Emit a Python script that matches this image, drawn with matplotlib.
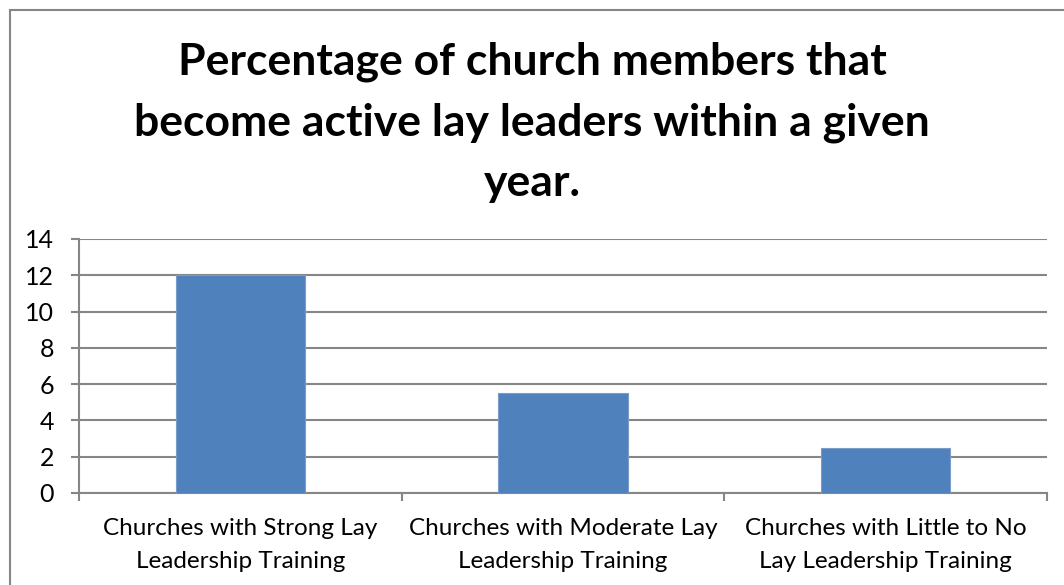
import matplotlib
matplotlib.use("Agg")
import matplotlib.pyplot as plt
from matplotlib.patches import Rectangle

# Chart data
categories = [
    "Churches with Strong Lay\nLeadership Training",
    "Churches with Moderate Lay\nLeadership Training",
    "Churches with Little to No\nLay Leadership Training",
]
percentages = [12, 5.5, 2.5]
y_ticks = [0, 2, 4, 6, 8, 10, 12, 14]

title = "Percentage of church members that\nbecome active lay leaders within a given\nyear."

bar_color = "#4F81BD"
grid_color = "#868686"

plt.rcParams["font.family"] = ["Lato", "DejaVu Sans"]

fig = plt.figure(figsize=(10.64, 5.85), dpi=100)
fig.patch.set_facecolor("white")

# outer chart border (runs off the right and bottom edges)
fig.patches.append(Rectangle((9.5 / 1064, -0.1), 1.2, 1 - 10 / 585 + 0.1,
                             transform=fig.transFigure, fill=False,
                             edgecolor=grid_color, linewidth=1.5))

ax = fig.add_axes([79 / 1064, 1 - 493 / 585, (1047 - 79) / 1064, (493 - 239) / 585])

x = range(len(categories))
ax.bar(x, percentages, width=0.4, color=bar_color, edgecolor="#7A9CC8",
       linewidth=0.8, zorder=3)

ax.set_xlim(-0.5, len(categories) - 0.5)
ax.set_ylim(0, 14)
ax.set_yticks(y_ticks)
ax.yaxis.grid(True, color=grid_color, linewidth=1.5, zorder=0)
ax.set_axisbelow(True)

for side in ["top", "right"]:
    ax.spines[side].set_visible(False)
for side in ["left", "bottom"]:
    ax.spines[side].set_color(grid_color)
    ax.spines[side].set_linewidth(1.5)

# category labels sit between boundary tick marks
ax.set_xticks([i + 0.5 for i in x[:-1]] + [-0.5, len(categories) - 0.5])
ax.set_xticklabels([])
ax.set_xticks(list(x), minor=True)
ax.set_xticklabels(categories, minor=True, fontsize=17.5, linespacing=1.72)
ax.tick_params(axis="x", which="major", length=5.5, width=1.5, color=grid_color, direction="out")
ax.tick_params(axis="x", which="minor", length=0, pad=18)
ax.tick_params(axis="y", length=6, width=1.5, color=grid_color, labelsize=18, pad=12)

fig.text(0.5, 1 - 42 / 585, title, ha="center", va="top", fontsize=32,
         fontweight="bold", linespacing=1.6)

fig.savefig("out.png", dpi=100, facecolor="white")
